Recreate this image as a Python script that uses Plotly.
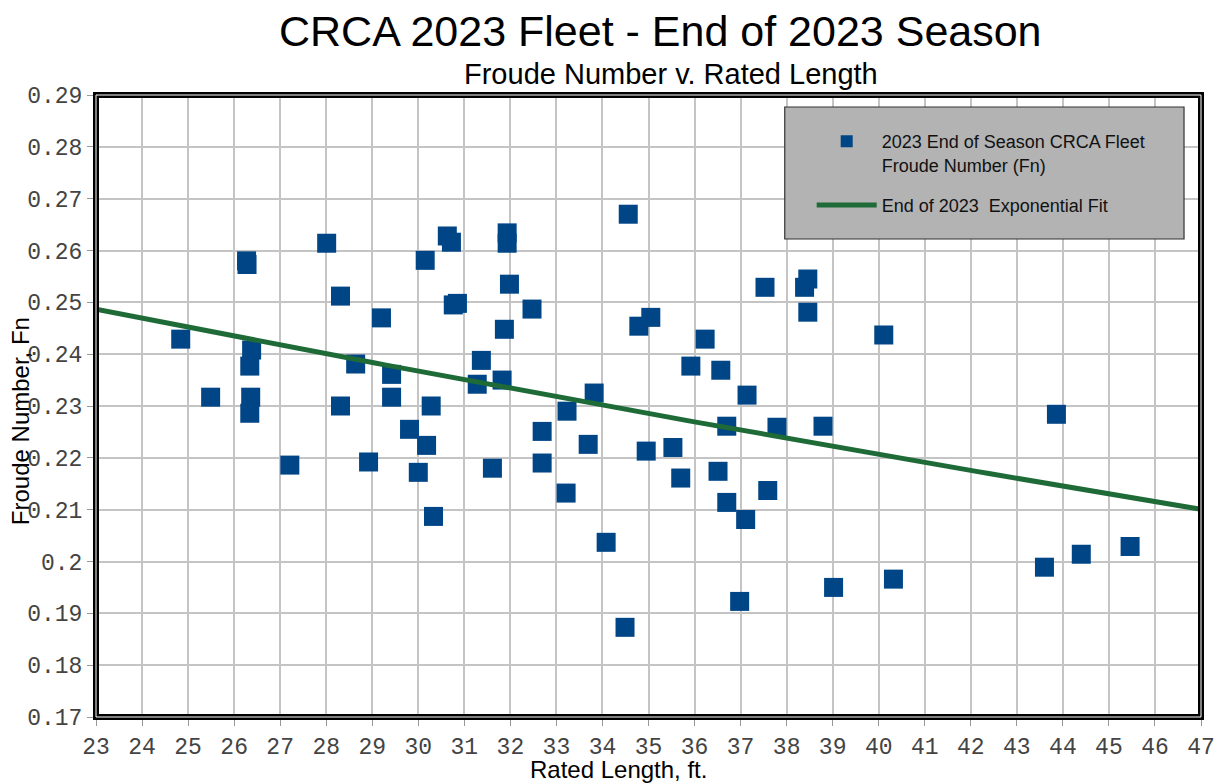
import numpy as np
import plotly.graph_objects as go

# Rated length (ft) and Froude number
rated_length = [24.84, 25.49, 26.27, 26.28, 26.38, 26.34, 26.36, 26.34, 27.21, 28.01,
                28.31, 28.64, 28.31, 28.92, 29.20, 29.42, 29.42, 29.81, 30.00, 30.18,
                30.28, 30.33, 30.15, 30.63, 30.72, 30.76, 30.85, 31.28, 31.37, 31.61,
                31.82, 31.87, 31.93, 31.93, 31.98, 32.47, 32.69, 32.69, 33.23, 33.21,
                33.69, 33.82, 34.08, 34.49, 34.56, 34.79, 35.05, 34.95, 35.53, 35.70,
                35.92, 36.23, 36.57, 36.51, 36.70, 36.70, 36.98, 37.11, 37.14, 37.53,
                37.59, 37.79, 38.39, 38.46, 38.46, 38.79, 39.02, 40.11, 40.32, 43.60,
                43.86, 44.40, 45.46]
froude_number = [0.2429, 0.2317, 0.2580, 0.2573, 0.2408, 0.2377, 0.2317, 0.2286, 0.2186, 0.2614,
                 0.2512, 0.2381, 0.2300, 0.2192, 0.2470, 0.2361, 0.2317, 0.2255, 0.2172, 0.2224,
                 0.2300, 0.2087, 0.2581, 0.2628, 0.2616, 0.2495, 0.2498, 0.2342, 0.2388, 0.2180,
                 0.2350, 0.2448, 0.2634, 0.2614, 0.2535, 0.2487, 0.2251, 0.2190, 0.2290, 0.2132,
                 0.2226, 0.2325, 0.2037, 0.1873, 0.2670, 0.2454, 0.2471, 0.2213, 0.2220, 0.2161,
                 0.2377, 0.2429, 0.2369, 0.2174, 0.2261, 0.2114, 0.1923, 0.2081, 0.2321, 0.2529,
                 0.2137, 0.2259, 0.2529, 0.2545, 0.2481, 0.2261, 0.1950, 0.2437, 0.1966, 0.1989,
                 0.2284, 0.2014, 0.2029]

# Exponential trendline coefficients (y = A * exp(B * x))
FIT_A = 0.2923
FIT_B = -0.00703
fit_range = [23, 47]

x_ticks = list(range(23, 48))
y_ticks = [0.17, 0.18, 0.19, 0.2, 0.21, 0.22, 0.23, 0.24, 0.25, 0.26, 0.27, 0.28, 0.29]
y_tick_labels = ["0.17", "0.18", "0.19", "0.2", "0.21", "0.22", "0.23", "0.24", "0.25",
                 "0.26", "0.27", "0.28", "0.29"]

fit_x = np.linspace(fit_range[0], fit_range[1], 100)
fit_y = FIT_A * np.exp(FIT_B * fit_x)

BLUE = "#004586"
GREEN = "#1e6b38"
SANS = "Liberation Sans, Arial, sans-serif"
MONO = "Liberation Mono, DejaVu Sans Mono, monospace"

fig = go.Figure()
fig.add_trace(go.Scatter(
    x=rated_length, y=froude_number, mode="markers",
    name="2023 End of Season CRCA Fleet<br>Froude Number (Fn)",
    legendgroup="a",
    marker=dict(symbol="square", size=19, color=BLUE, line=dict(width=0)),
))
fig.add_trace(go.Scatter(
    x=fit_x, y=fit_y, mode="lines",
    name="End of 2023  Exponential Fit",
    legendgroup="b",
    line=dict(color=GREEN, width=5),
))

# The page body has an 8px margin; plot area in page pixels: x 96..1203, y 95..717
OFF = 8
W, H = 1227 - OFF, 783 - OFF
PL, PT, PR, PB = 96, 95, 1203, 717
pw, ph = PR - PL, PB - PT

def px_x(p):
    return (p - PL) / pw

def px_y(p):
    return 1 - (p - PT) / ph

fig.update_layout(
    width=W, height=H,
    margin=dict(l=PL - OFF, t=PT - OFF, r=W - (PR - OFF), b=H - (PB - OFF)),
    paper_bgcolor="white", plot_bgcolor="white",
    font=dict(family=SANS, color="#000"),
    showlegend=True,
    legend=dict(
        x=px_x(813), y=px_y(123), xanchor="left", yanchor="top",
        bgcolor="rgba(0,0,0,0)", borderwidth=0,
        font=dict(family=SANS, size=18, color="#111"),
        itemwidth=60, itemsizing="constant", valign="top",
        tracegroupgap=14,
    ),
    xaxis=dict(
        range=[23, 47], tickvals=x_ticks, ticktext=[str(v) for v in x_ticks],
        showgrid=True, gridcolor="#c4c4c4", gridwidth=1.5,
        zeroline=False, showline=False,
        ticks="outside", ticklen=8, tickcolor="#999", tickwidth=1,
        tickfont=dict(family=MONO, size=23, color="#444"),
    ),
    yaxis=dict(
        range=[0.17, 0.29], tickvals=y_ticks, ticktext=y_tick_labels,
        showgrid=True, gridcolor="#c4c4c4", gridwidth=1.5,
        zeroline=False, showline=False,
        ticks="outside", ticklen=8, tickcolor="#999", tickwidth=1,
        tickfont=dict(family=MONO, size=23, color="#444"),
    ),
    shapes=[
        dict(type="rect", xref="paper", yref="paper",
             x0=px_x(786), x1=px_x(1186), y0=px_y(239), y1=px_y(107),
             fillcolor="#b3b3b3", line=dict(color="#333", width=1.2), layer="above"),
        dict(type="rect", xref="paper", yref="paper", x0=0, x1=1, y0=0, y1=1,
             line=dict(color="black", width=6), layer="above"),
        dict(type="rect", xref="paper", yref="paper", x0=0, x1=1, y0=0, y1=1,
             line=dict(color="white", width=1), layer="above"),
    ],
    annotations=[
        dict(text="CRCA 2023 Fleet - End of 2023 Season", xref="paper", yref="paper",
             x=px_x(662), y=px_y(31), xanchor="center", yanchor="middle",
             showarrow=False, font=dict(family=SANS, size=43, color="#000")),
        dict(text="Froude Number v. Rated Length", xref="paper", yref="paper",
             x=px_x(672), y=px_y(74), xanchor="center", yanchor="middle",
             showarrow=False, font=dict(family=SANS, size=29, color="#000")),
        dict(text="Rated Length, ft.", xref="paper", yref="paper",
             x=px_x(619), y=px_y(769), xanchor="center", yanchor="middle",
             showarrow=False, font=dict(family=SANS, size=24, color="#000")),
        dict(text="Froude Number, Fn", xref="paper", yref="paper",
             x=px_x(20), y=px_y(421), xanchor="center", yanchor="middle",
             textangle=-90, showarrow=False, font=dict(family=SANS, size=24, color="#000")),
    ],
)

fig.write_html("out.html")
